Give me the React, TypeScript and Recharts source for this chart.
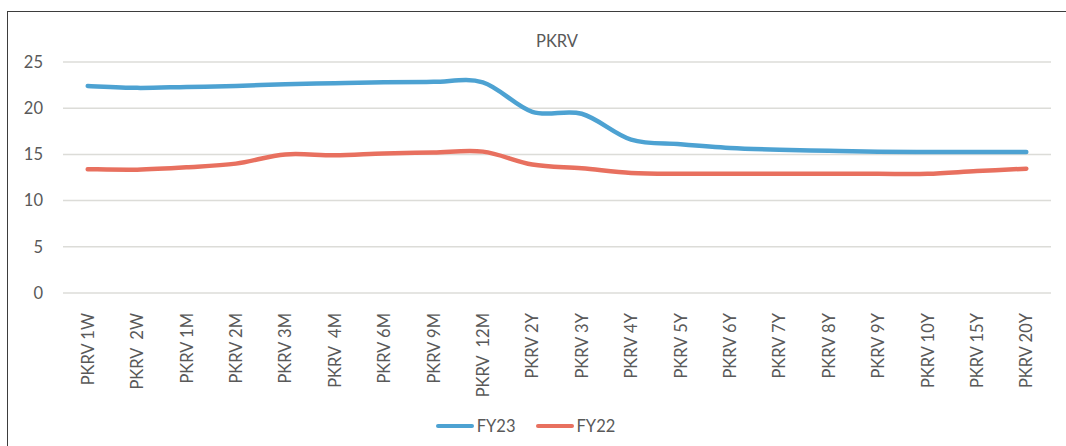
import { CartesianGrid, Legend, Line, LineChart, XAxis, YAxis } from "recharts";

const tenors = [
  "PKRV 1W", "PKRV  2W", "PKRV 1M", "PKRV 2M", "PKRV 3M", "PKRV  4M", "PKRV 6M",
  "PKRV 9M", "PKRV  12M", "PKRV 2Y", "PKRV 3Y", "PKRV 4Y", "PKRV 5Y", "PKRV 6Y",
  "PKRV 7Y", "PKRV 8Y", "PKRV 9Y", "PKRV 10Y", "PKRV 15Y", "PKRV 20Y",
];
const fy23 = [
  22.4, 22.2, 22.3, 22.4, 22.6, 22.7, 22.8, 22.85, 22.8, 19.6,
  19.4, 16.6, 16.1, 15.7, 15.5, 15.4, 15.3, 15.25, 15.25, 15.25,
];
const fy22 = [
  13.4, 13.35, 13.6, 14.0, 15.0, 14.9, 15.1, 15.2, 15.3, 13.9,
  13.5, 13.0, 12.9, 12.9, 12.9, 12.9, 12.9, 12.9, 13.2, 13.45,
];
const yTicks = [0, 5, 10, 15, 20, 25];
const seriesOrder = ["FY23", "FY22"];

const data = tenors.map((name, i) => ({ name, FY23: fy23[i], FY22: fy22[i] }));

const FONT = "Lato, 'Noto Sans', sans-serif";
const TEXT = "#595959";

// Excel-like smoothed line (Catmull-Rom through every point)
function smoothCurve(context: any) {
  let pts: number[][] = [];
  return {
    areaStart() {},
    areaEnd() {},
    lineStart() {
      pts = [];
    },
    point(x: number, y: number) {
      pts.push([+x, +y]);
    },
    lineEnd() {
      const n = pts.length;
      if (!n) return;
      context.moveTo(pts[0][0], pts[0][1]);
      for (let i = 0; i < n - 1; i++) {
        const p0 = pts[Math.max(i - 1, 0)];
        const p1 = pts[i];
        const p2 = pts[i + 1];
        const p3 = pts[Math.min(i + 2, n - 1)];
        context.bezierCurveTo(
          p1[0] + (p2[0] - p0[0]) / 6,
          p1[1] + (p2[1] - p0[1]) / 6,
          p2[0] - (p3[0] - p1[0]) / 6,
          p2[1] - (p3[1] - p1[1]) / 6,
          p2[0],
          p2[1]
        );
      }
    },
  };
}

function TenorTick({ x, y, payload }: any) {
  return (
    <text
      x={x}
      y={y + 12}
      transform={`rotate(-90, ${x}, ${y + 12})`}
      textAnchor="end"
      dominantBaseline="central"
      fill={TEXT}
      fontSize={16.5}
      fontFamily={FONT}
      style={{ whiteSpace: "pre" }}
    >
      {payload.value}
    </text>
  );
}

function LegendRow({ payload }: any) {
  const items = [...(payload || [])].sort(
    (a: any, b: any) => seriesOrder.indexOf(a.value) - seriesOrder.indexOf(b.value)
  );
  return (
    <div style={{ display: "flex", justifyContent: "center", gap: 20, fontFamily: FONT, fontSize: 16.5, color: TEXT }}>
      {items.map((p: any) => (
        <div key={p.value} style={{ display: "flex", alignItems: "center" }}>
          <span style={{ width: 38, height: 4, borderRadius: 2, background: p.color, marginRight: 3 }} />
          {p.value}
        </div>
      ))}
    </div>
  );
}

export default function App() {
  return (
    <div style={{ position: "absolute", left: 0, top: 0, width: 1066, height: 446, overflow: "hidden", background: "#fff" }}>
      <div style={{ position: "absolute", left: 7, top: 11, width: 1100, height: 500, border: "1.3px solid #3d3d3d" }} />
      <div
        style={{
          position: "absolute",
          top: 31,
          left: 457,
          width: 200,
          textAlign: "center",
          fontFamily: FONT,
          fontSize: 16.5,
          color: TEXT,
        }}
      >
        PKRV
      </div>
      <div style={{ position: "absolute", left: 0, top: 0 }}>
        <LineChart width={1066} height={446} data={data} margin={{ top: 62, right: 15, left: 0, bottom: 0 }}>
          <CartesianGrid vertical={false} stroke="#dcdcd8" strokeWidth={1.5} />
          <XAxis
            dataKey="name"
            interval={0}
            padding={{ left: 24.7, right: 24.7 }}
            tick={<TenorTick />}
            tickLine={false}
            axisLine={false}
            height={123}
          />
          <YAxis
            width={63}
            domain={[0, 25]}
            ticks={yTicks}
            tickLine={false}
            axisLine={false}
            tickMargin={14}
            tick={{ fill: TEXT, fontSize: 16.5, fontFamily: FONT }}
          />
          <Legend verticalAlign="bottom" height={30} content={<LegendRow />} />
          <Line
            dataKey="FY23"
            type={smoothCurve as any}
            stroke="#4da2d2"
            strokeWidth={4.5}
            strokeLinecap="round"
            dot={false}
            activeDot={false}
            isAnimationActive={false}
          />
          <Line
            dataKey="FY22"
            type={smoothCurve as any}
            stroke="#e8705f"
            strokeWidth={4.5}
            strokeLinecap="round"
            dot={false}
            activeDot={false}
            isAnimationActive={false}
          />
        </LineChart>
      </div>
    </div>
  );
}
